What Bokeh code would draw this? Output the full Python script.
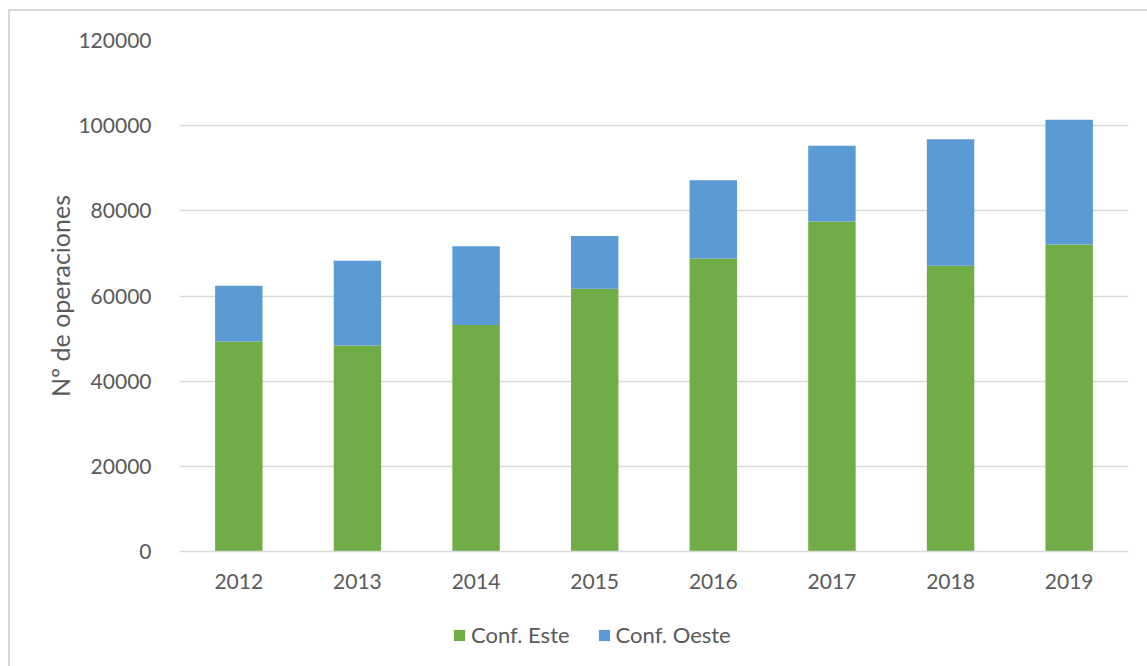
from bokeh.plotting import figure
from bokeh.layouts import column
from bokeh.models import (Range1d, FactorRange, Legend, LegendItem, ColumnDataSource,
                          SingleIntervalTicker, NumeralTickFormatter)
from bokeh.embed import file_html
from bokeh.resources import INLINE

years = ["2012", "2013", "2014", "2015", "2016", "2017", "2018", "2019"]
conf_este = [49300, 48400, 53200, 61700, 68800, 77500, 67100, 72100]
conf_oeste = [13100, 19900, 18500, 12400, 18400, 17800, 29700, 29300]
series = ["Conf. Este", "Conf. Oeste"]
colors = ["#70AD47", "#5B9BD5"]

FONT = "Lato"
TXT = "#595959"

src = ColumnDataSource(dict(year=years, este=conf_este, oeste=conf_oeste))

p = figure(width=1137, height=590, x_range=FactorRange(*years, range_padding=0),
           y_range=Range1d(0, 120000), output_backend="svg", toolbar_location=None,
           min_border_left=169, min_border_right=19, min_border_top=29, min_border_bottom=50)

r = p.vbar_stack(["este", "oeste"], x="year", width=0.4, source=src,
                 color=colors, line_color=None)

p.outline_line_color = None
p.background_fill_color = "white"
p.border_fill_color = "white"

p.xgrid.grid_line_color = None
p.ygrid.grid_line_color = "#d9d9d9"
p.ygrid.grid_line_width = 1.5
p.yaxis.ticker = SingleIntervalTicker(interval=20000)
p.yaxis.formatter = NumeralTickFormatter(format="0")

p.yaxis.axis_line_color = None
p.yaxis.major_tick_line_color = None
p.yaxis.minor_tick_line_color = None
p.yaxis.major_label_standoff = 22
p.yaxis.axis_label = "Nº de operaciones"
p.yaxis.axis_label_standoff = 0
p.yaxis.axis_label_text_font = FONT
p.yaxis.axis_label_text_font_style = "normal"
p.yaxis.axis_label_text_font_size = "25px"
p.yaxis.axis_label_text_color = TXT

p.xaxis.axis_line_color = "#d9d9d9"
p.xaxis.axis_line_width = 1.5
p.xaxis.major_tick_line_color = None
p.xaxis.minor_tick_line_color = None
p.xaxis.major_label_standoff = 16

for ax in (p.xaxis, p.yaxis):
    ax.major_label_text_font = FONT
    ax.major_label_text_font_size = "21px"
    ax.major_label_text_color = TXT

# legend strip below the chart
lg = figure(width=1137, height=65, x_range=Range1d(0, 1), y_range=Range1d(0, 1),
            output_backend="svg", toolbar_location=None,
            min_border_left=0, min_border_right=0, min_border_top=0, min_border_bottom=0)
lg.axis.visible = False
lg.grid.grid_line_color = None
lg.outline_line_color = None
dummy = ColumnDataSource(dict(x=[-5], top=[0]))
lr = [lg.vbar(x="x", top="top", width=0.1, source=dummy, color=c, line_color=None) for c in colors]

legend = Legend(items=[LegendItem(label=series[i], renderers=[lr[i]]) for i in range(2)],
                orientation="horizontal", location=(273, 18),
                padding=0, margin=0, spacing=27, label_standoff=5,
                glyph_width=14, glyph_height=14,
                label_text_font=FONT, label_text_font_size="22px", label_text_color=TXT,
                border_line_color=None, background_fill_alpha=0)
lg.add_layout(legend, "center")

layout = column(p, lg, spacing=0)
layout.styles = {"margin-left": "8px", "margin-top": "9px",
                 "border-left": "2px solid #d9d9d9", "border-top": "2px solid #d9d9d9"}

open("out.html", "w").write(file_html(layout, INLINE))
